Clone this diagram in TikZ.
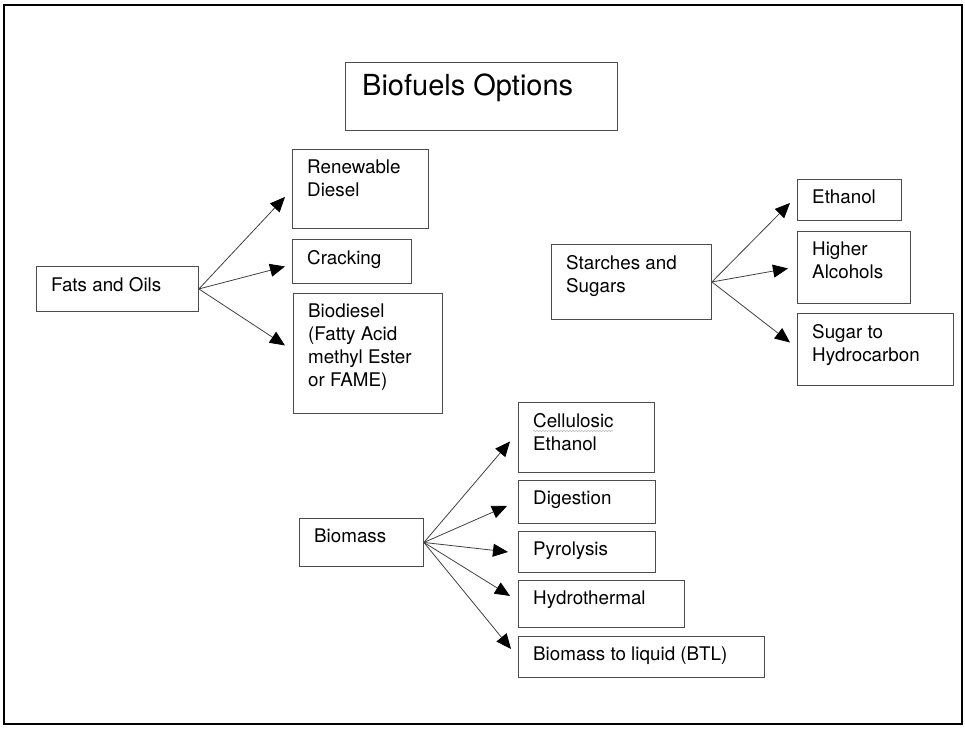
\documentclass[tikz,border=0pt]{standalone}
\usepackage{fontspec}
\setmainfont{TeX Gyre Heros}
\usetikzlibrary{arrows.meta, decorations.pathmorphing}

\begin{document}
\begin{tikzpicture}[x=1pt, y=-1pt,
  optbox/.style={draw=black!70, line width=0.9pt, anchor=north west, inner sep=0pt},
  txt/.style={anchor=north west, inner sep=0pt, align=left, font=\fontsize{18.8}{23}\selectfont},
  arr/.style={draw=black!75, line width=0.8pt, -{Triangle[length=15pt,width=13pt,color=black]}}]

  \useasboundingbox (0,0) rectangle (965,730);
  \draw[line width=2pt] (4,5) rectangle (962,724);

  % Title
  \node[optbox, minimum width=272pt, minimum height=68pt] (title) at (345,62) {};
  \node[txt, font=\fontsize{29}{34}\selectfont] (title-t) at ([shift={(17,12)}]title.north west) {Biofuels Options};

  % Fats and oils
  \node[optbox, minimum width=162pt, minimum height=45pt] (fats) at (36,266) {};
  \node[txt] (fats-t) at ([shift={(15,11)}]fats.north west) {Fats and Oils};
  \node[optbox, minimum width=136pt, minimum height=79pt] (rd) at (292,149) {};
  \node[txt] (rd-t) at ([shift={(15,11)}]rd.north west) {Renewable\\Diesel};
  \node[optbox, minimum width=119pt, minimum height=44pt] (crack) at (292,239) {};
  \node[txt] (crack-t) at ([shift={(15,11)}]crack.north west) {Cracking};
  \node[optbox, minimum width=149pt, minimum height=120pt] (biod) at (293,293) {};
  \node[txt] (biod-t) at ([shift={(15,11)}]biod.north west) {Biodiesel\\(Fatty Acid\\methyl Ester\\or FAME)};
  \draw[arr] (fats.east) -- ([shift={(-7,8)}]rd.west);
  \draw[arr] (fats.east) -- ([shift={(-7,5)}]crack.west);
  \draw[arr] (fats.east) -- ([shift={(-8,-8)}]biod.west);

  % Starches and sugars
  \node[optbox, minimum width=160pt, minimum height=75pt] (starch) at (551,244) {};
  \node[txt] (starch-t) at ([shift={(15,11)}]starch.north west) {Starches and\\Sugars};
  \node[optbox, minimum width=104pt, minimum height=41pt] (eth) at (797,179) {};
  \node[txt] (eth-t) at ([shift={(15,11)}]eth.north west) {Ethanol};
  \node[optbox, minimum width=113pt, minimum height=72pt] (alc) at (797,231) {};
  \node[txt] (alc-t) at ([shift={(15,11)}]alc.north west) {Higher\\Alcohols};
  \node[optbox, minimum width=156pt, minimum height=72pt] (sug) at (797,313) {};
  \node[txt] (sug-t) at ([shift={(15,11)}]sug.north west) {Sugar to\\Hydrocarbon};
  \draw[arr] (starch.east) -- ([shift={(-7,3)}]eth.west);
  \draw[arr] (starch.east) -- ([shift={(-9,1)}]alc.west);
  \draw[arr] (starch.east) -- ([shift={(-7,-7)}]sug.west);

  % Biomass
  \node[optbox, minimum width=124pt, minimum height=48pt] (bio) at (299,518) {};
  \node[txt] (bio-t) at ([shift={(15,11)}]bio.north west) {Biomass};
  \node[optbox, minimum width=136pt, minimum height=70pt] (cell) at (518,402) {};
  \node[txt] (cell-t) at ([shift={(15,11)}]cell.north west) {Cellulosic\\Ethanol};
  \draw[gray!55, line width=0.6pt, decorate, decoration={snake, amplitude=0.7pt, segment length=3pt}]
    ([shift={(15,29)}]cell.north west) -- ([shift={(95,29)}]cell.north west);
  \node[optbox, minimum width=137pt, minimum height=43pt] (dig) at (518,480) {};
  \node[txt] (dig-t) at ([shift={(15,11)}]dig.north west) {Digestion};
  \node[optbox, minimum width=137pt, minimum height=41pt] (pyr) at (518,531) {};
  \node[txt] (pyr-t) at ([shift={(15,11)}]pyr.north west) {Pyrolysis};
  \node[optbox, minimum width=166pt, minimum height=47pt] (hyd) at (518,580) {};
  \node[txt] (hyd-t) at ([shift={(15,11)}]hyd.north west) {Hydrothermal};
  \node[optbox, minimum width=246pt, minimum height=41pt] (btl) at (518,636) {};
  \node[txt] (btl-t) at ([shift={(15,11)}]btl.north west) {Biomass to liquid (BTL)};
  \draw[arr] (bio.east) -- ([shift={(-8,4)}]cell.west);
  \draw[arr] (bio.east) -- ([shift={(-11,4)}]dig.west);
  \draw[arr] (bio.east) -- ([shift={(-10,0)}]pyr.west);
  \draw[arr] (bio.east) -- ([shift={(-8,-8)}]hyd.west);
  \draw[arr] (bio.east) -- ([shift={(-7,-8)}]btl.west);

\end{tikzpicture}
\end{document}
